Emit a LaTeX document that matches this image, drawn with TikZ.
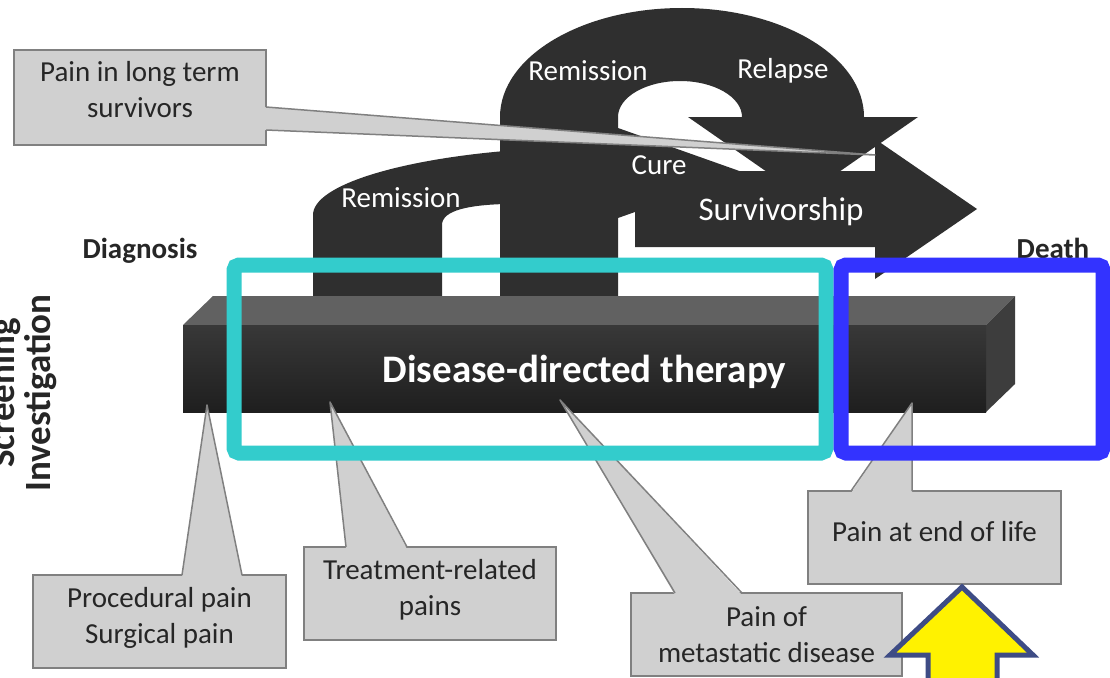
\documentclass[tikz,border=0pt]{standalone}
\usepackage{fontspec}
\setmainfont{Carlito}
\usetikzlibrary{positioning}

\definecolor{darkshape}{HTML}{2F2F2F}
\definecolor{calloutfill}{HTML}{D0D0D0}
\definecolor{calloutline}{HTML}{808080}
\definecolor{cyanframe}{HTML}{33CCCC}
\definecolor{blueframe}{HTML}{3333FF}
\definecolor{arrowedge}{HTML}{3E4C85}

\begin{document}
\begin{tikzpicture}[x=1pt, y=-1pt,
    arrowlabel/.style={text=white, font=\fontsize{29}{35}\selectfont, anchor=base},
    boldlabel/.style={text=black!85, font=\fontsize{29}{35}\selectfont\bfseries, anchor=base},
    callbox/.style={fill=calloutfill, draw=calloutline, line width=1.5pt, inner sep=0pt},
    calltext/.style={text=black!85, font=\fontsize{29}{36}\selectfont, align=center, inner sep=0pt},
    ptrfill/.style={fill=calloutfill},
    ptredge/.style={draw=calloutline, line width=1.5pt, line join=round},
    frame/.style={line width=15pt, rounded corners=5pt}]
\clip (0,0) rectangle (1110,677);
\fill[white] (0,0) rectangle (1110,677);

% trajectory arrows
\fill[darkshape] (313,296) -- (313,215) .. controls (313,185) and (400,160) .. (505,151)
    -- (505,204) .. controls (470,205) and (442,210) .. (442,225) -- (442,296) -- cycle;
\fill[darkshape] (500,296) -- (500,117) arc[start angle=180, end angle=360, x radius=182, y radius=109]
    -- (742,117) arc[start angle=0, end angle=-180, x radius=62, y radius=36] -- (618,296) -- cycle;
\fill[darkshape] (618,128) -- (745,173) -- (618,218) -- cycle;
\fill[darkshape] (635,171) -- (875,171) -- (875,139) -- (977,209) -- (875,279) -- (875,247) -- (635,247) -- cycle;
\fill[darkshape] (688,117) -- (918,117) -- (803,197) -- cycle;

\node[arrowlabel] (remisstop) at (588,80) {Remission};
\node[arrowlabel] (relapse) at (783,78) {Relapse};
\node[arrowlabel] (cure) at (659,174) {Cure};
\node[arrowlabel, font=\fontsize{33}{38}\selectfont] (surv) at (781,220) {Survivorship};
\node[arrowlabel] (remisslow) at (401,207) {Remission};

% therapy bar
\fill[black!62] (183,325) -- (213,296) -- (1015,296) -- (986,325) -- cycle;
\fill[black!76] (986,325) -- (1015,296) -- (1015,384) -- (986,412) -- cycle;
\node[top color=black!78, bottom color=black!88, minimum width=803pt, minimum height=87pt,
    inner sep=0pt, text=white, text depth=0pt, font=\fontsize{39}{44}\selectfont\bfseries]
    (therapy) at (584.5,368.5) {Disease-directed therapy};

% pointer tips
\coordinate (tipsurv) at (875,155);
\coordinate (tipproc) at (207,405);
\coordinate (tiptreat) at (330,402);
\coordinate (tipmeta) at (560,400);
\coordinate (tipend) at (912,403);

% callouts
\node[callbox, minimum width=252pt, minimum height=95pt] (survbox) at (140,97.5) {};
\fill[ptrfill] (264,107) -- (tipsurv) -- (264,130) -- cycle;
\draw[ptredge] (266,107) -- (tipsurv) -- (266,130);
\node[calltext] (survtext) at (140,90) {Pain in long term\\survivors};

\node[callbox, minimum width=253pt, minimum height=93pt] (procbox) at (159.5,621.5) {};
\fill[ptrfill] (182,577) -- (tipproc) -- (242,577) -- cycle;
\draw[ptredge] (182,575) -- (tipproc) -- (242,575);
\node[calltext] (proctext) at (159.5,617.5) {Procedural pain\\Surgical pain};

\node[callbox, minimum width=252pt, minimum height=93pt] (treatbox) at (430,593.5) {};
\fill[ptrfill] (346,549) -- (tiptreat) -- (407,549) -- cycle;
\draw[ptredge] (346,547) -- (tiptreat) -- (407,547);
\node[calltext] (treattext) at (430,589.5) {Treatment-related\\pains};

\node[callbox, minimum width=271pt, minimum height=83pt] (metabox) at (766.5,634.5) {};
\fill[ptrfill] (675,595) -- (tipmeta) -- (742,595) -- cycle;
\draw[ptredge] (675,593) -- (tipmeta) -- (742,593);
\node[calltext] (metatext) at (766.5,635) {Pain of\\metastatic disease};

\node[callbox, minimum width=253pt, minimum height=93pt] (endbox) at (934.5,537.5) {};
\fill[ptrfill] (851,493) -- (tipend) -- (912,493) -- cycle;
\draw[ptredge] (851,491) -- (tipend) -- (912,491);
\node[calltext] (endtext) at (934.5,532) {Pain at end of life};

% phase labels
\node[boldlabel] (diag) at (140,258) {Diagnosis};
\node[boldlabel] (death) at (1053,258) {Death};
\node[text=black!85, font=\fontsize{37}{36}\selectfont\bfseries, align=center, rotate=90, inner sep=0pt]
    (phase) at (23,393) {Screening\\Investigation};

% highlight frames
\draw[frame, cyanframe] (234,265) rectangle (826,453);
\draw[frame, blueframe] (841,265) rectangle (1103,453);

\filldraw[fill=yellow, draw=arrowedge, line width=5pt] (962,587) -- (1033,655) -- (997,655)
    -- (997,700) -- (928,700) -- (928,655) -- (890,655) -- cycle;
\end{tikzpicture}
\end{document}
